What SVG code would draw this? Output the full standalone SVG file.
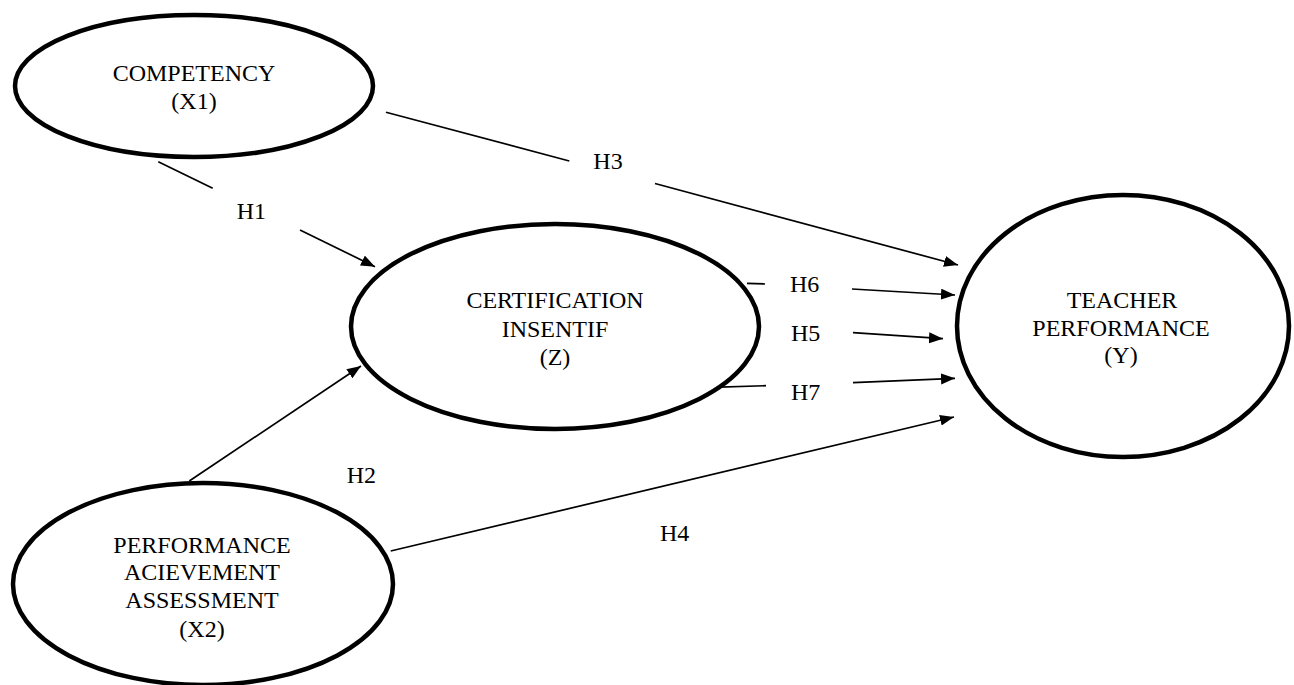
<svg xmlns="http://www.w3.org/2000/svg" width="1294" height="685" viewBox="0 0 1294 685">
<defs>
<marker id="arr" markerUnits="userSpaceOnUse" markerWidth="16" markerHeight="12" refX="14" refY="5.5" orient="auto">
<path d="M0,0 L14,5.5 L0,11 z" fill="#000"/>
</marker>
<style>
.node ellipse{fill:#fff;stroke:#000;stroke-width:4.5}
text{font-family:"Liberation Serif","Times New Roman",serif;font-size:24px;fill:#000}
.node text{text-anchor:middle}
.conn line{stroke:#000;stroke-width:1.7}
.arrow{marker-end:url(#arr)}
</style>
</defs>
<rect width="1294" height="685" fill="#fff"/>
<g id="connectors" class="conn">
<line x1="386" y1="112.3" x2="569.3" y2="161"/>
<line class="arrow" x1="655" y1="183.5" x2="958" y2="265"/>
<line x1="158.3" y1="161.7" x2="212.7" y2="188.3"/>
<line class="arrow" x1="300" y1="230" x2="375" y2="266.7"/>
<line class="arrow" x1="189.3" y1="481" x2="361" y2="366"/>
<line class="arrow" x1="390.7" y1="551" x2="954" y2="417"/>
<line x1="747" y1="283.3" x2="765" y2="284"/>
<line class="arrow" x1="852" y1="289" x2="955" y2="295"/>
<line class="arrow" x1="853" y1="332.7" x2="943" y2="338.7"/>
<line x1="711.7" y1="387.3" x2="766" y2="385.7"/>
<line class="arrow" x1="853" y1="382.7" x2="955" y2="378.3"/>
</g>
<g id="labels">
<text x="593.3" y="169">H3</text>
<text x="236.7" y="219">H1</text>
<text x="346.7" y="482.7">H2</text>
<text x="660" y="540.7">H4</text>
<text x="790" y="292">H6</text>
<text x="791" y="340.7">H5</text>
<text x="791" y="400">H7</text>
</g>
<g id="competency" class="node">
<ellipse cx="194" cy="86" rx="179" ry="71"/>
<text x="194" y="81">COMPETENCY</text>
<text x="194" y="109">(X1)</text>
</g>
<g id="certification" class="node">
<ellipse cx="555" cy="326.5" rx="204" ry="102.5"/>
<text x="555" y="308">CERTIFICATION</text>
<text x="555" y="336.5">INSENTIF</text>
<text x="555" y="365">(Z)</text>
</g>
<g id="teacher" class="node">
<ellipse cx="1123" cy="326" rx="166" ry="131"/>
<text x="1122" y="308">TEACHER</text>
<text x="1121" y="335.5">PERFORMANCE</text>
<text x="1121" y="363">(Y)</text>
</g>
<g id="performance" class="node">
<ellipse cx="203" cy="584" rx="190" ry="101"/>
<text x="202" y="552.7">PERFORMANCE</text>
<text x="202" y="580.2">ACIEVEMENT</text>
<text x="202" y="607.7">ASSESSMENT</text>
<text x="202" y="636.5">(X2)</text>
</g>
</svg>
